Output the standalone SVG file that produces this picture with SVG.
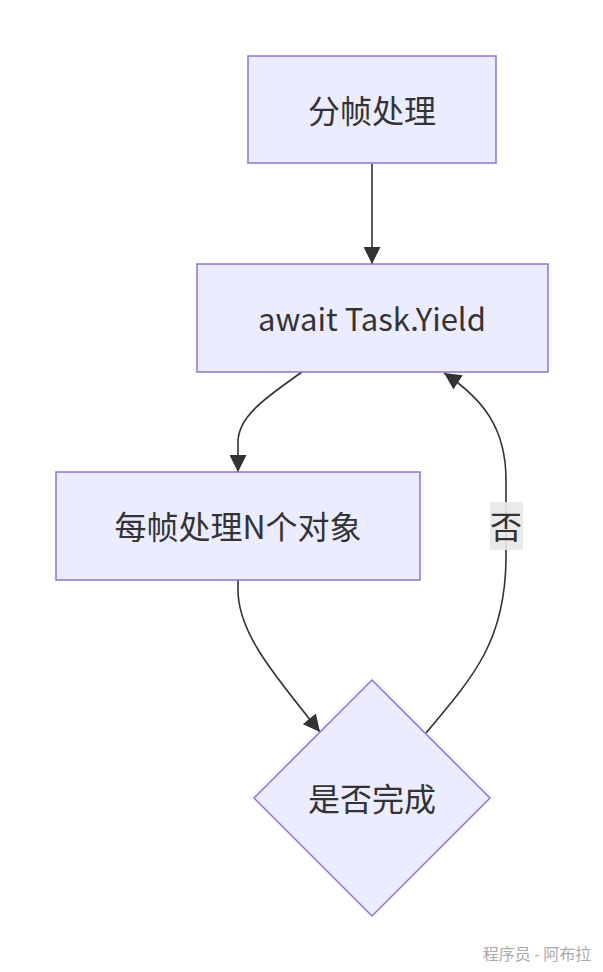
<svg xmlns="http://www.w3.org/2000/svg" width="603" height="972" viewBox="0 0 603 972">
<style>
.node{fill:#ECECFF;stroke:#9370DB;stroke-width:1.5}
.lbl{font-family:"Noto Sans CJK SC","Noto Sans",sans-serif;font-size:32px;fill:#333;text-anchor:middle;dominant-baseline:central}
.edge{fill:none;stroke:#333;stroke-width:1.6}
</style>
<defs>
<marker id="arr" viewBox="0 0 10 10" refX="10" refY="5" markerUnits="userSpaceOnUse" markerWidth="17" markerHeight="17" orient="auto">
<path d="M0,0 L10,5 L0,10 z" fill="#333"/>
</marker>
</defs>
<rect width="603" height="972" fill="#fff"/>
<g id="edges">
<path class="edge" d="M372,164 L372,264" marker-end="url(#arr)"/>
<path class="edge" d="M302,372 C270,395 238,415 238,442 L238,472" marker-end="url(#arr)"/>
<path class="edge" d="M238,580 L238,590 C238,630 268,668 320,732" marker-end="url(#arr)"/>
<path class="edge" d="M426,733 C475,675 505,640 506,560 L506,480 C506,430 485,400 444,373" marker-end="url(#arr)"/>
</g>
<g id="edge-label">
<rect x="490" y="502" width="33" height="48" fill="#e8e8e8" fill-opacity="0.9"/>
<text class="lbl" x="506" y="525">否</text>
</g>
<g id="n1">
<rect class="node" x="248" y="56" width="248" height="107"/>
<text class="lbl" x="372" y="108.5">分帧处理</text>
</g>
<g id="n2">
<rect class="node" x="197" y="264" width="351" height="108"/>
<text class="lbl" x="372" y="317" style="font-size:31px">await Task.Yield</text>
</g>
<g id="n3">
<rect class="node" x="56" y="472" width="364" height="108"/>
<text class="lbl" x="238" y="525">每帧处理N个对象</text>
</g>
<g id="n4">
<polygon class="node" points="372,680 490,798 372,916 254,798"/>
<text class="lbl" x="372" y="797">是否完成</text>
</g>
<text x="537" y="953" font-family="Noto Sans CJK SC,sans-serif" font-size="16" fill="#aaa" text-anchor="middle" dominant-baseline="central">程序员 - 阿布拉</text>
</svg>
